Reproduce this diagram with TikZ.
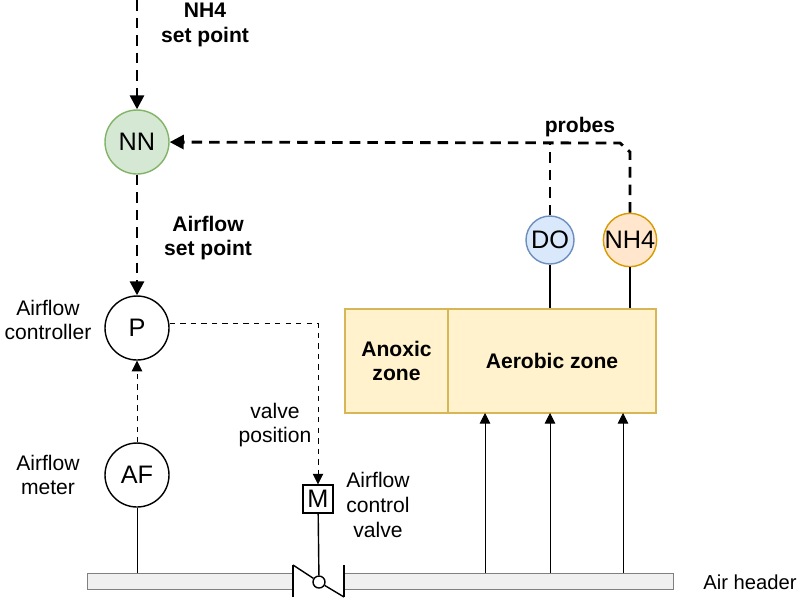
\documentclass[tikz,border=0pt]{standalone}
\usepackage{fontspec}
\setmainfont{Liberation Sans}
\usetikzlibrary{arrows.meta}
\definecolor{gfill}{HTML}{D5E8D4}\definecolor{gline}{HTML}{82B366}
\definecolor{bfill}{HTML}{DAE8FC}\definecolor{bline}{HTML}{6C8EBF}
\definecolor{ofill}{HTML}{FFE6CC}\definecolor{oline}{HTML}{D79B00}
\definecolor{yfill}{HTML}{FFF2CC}\definecolor{yline}{HTML}{D6B656}
\begin{document}
\begin{tikzpicture}[x=0.02cm,y=-0.02cm,
 circ/.style={circle,draw,thick,minimum size=1.28cm,inner sep=0pt,font=\Large},
 probe/.style={circle,draw,thick,minimum size=0.96cm,inner sep=0pt,font=\Large},
 zone/.style={draw=yline,fill=yfill,thick,font=\large\bfseries,align=center,inner sep=0pt},
 lbl/.style={align=center,font=\large},
 blbl/.style={align=center,font=\large\bfseries},
 big/.style={dashed,line width=1.6pt,dash pattern=on 6pt off 4pt,-{Triangle[length=8pt,width=8pt]}},
 small/.style={dashed,thin,-{Triangle[length=6pt,width=6pt]}},
 up/.style={thin,-{Triangle[length=6pt,width=6pt]}}]
\useasboundingbox (0,0) rectangle (800,600);
% pipe
\draw[gray,fill=gray!12] (87,573) rectangle (293,589);
\draw[gray,fill=gray!12] (344,573) rectangle (673,589);
\node[anchor=west,font=\fontsize{11.5}{14}\selectfont,inner sep=0pt] (air) at (703,582) {Air header};
% nodes
\node[circ,fill=gfill,draw=gline] (NN) at (137,142) {NN};
\node[circ] (P) at (137,328) {P};
\node[circ] (AF) at (137,475) {AF};
\node[draw,thick,minimum width=0.6cm,minimum height=0.56cm,inner sep=0pt,font=\Large] (M) at (318,499) {M};
\coordinate (top) at (137,0);
\draw[big] (top) -- (NN);
\node[blbl] (l1) at (205,25) {NH4\\set point};
\draw[big] (NN) -- (P);
\node[blbl] (l2) at (208,238) {Airflow\\set point};
\node[lbl] (l3) at (48,320) {Airflow\\controller};
\node[lbl] (l4) at (48,475) {Airflow\\meter};
\draw[small] (AF) -- (P);
\coordinate (afb) at (137,573);
\draw[thin] (AF) -- (afb);
\coordinate (pc) at (318,323);
\draw[small] (P.east |- pc) -- (pc) -- (M);
\node[lbl] (l5) at (275,425) {valve\\position};
\node[lbl] (l6) at (378,505) {Airflow\\control\\valve};
% valve
\node[circle,draw,thick,fill=white,minimum size=0.24cm,inner sep=0pt] (vc) at (319,582) {};
\draw[thick] (293,565) -- (293,597);
\draw[thick] (344,565) -- (344,597);
\draw[thick] (293,565) -- (vc) -- (344,597);
\draw[thick] (M) -- (vc);
% zones
\node[zone,minimum width=2.06cm,minimum height=2.08cm] (anox) at (396.5,361) {Anoxic\\zone};
\node[zone,minimum width=4.16cm,minimum height=2.08cm] (aer) at (552,361) {Aerobic zone};
\foreach \x in {485,550,623}{\coordinate (b\x) at (\x,573);\coordinate (t\x) at (\x,413);\draw[up] (b\x) -- (t\x);}
\node[probe,fill=bfill,draw=bline] (DO) at (550,240) {DO};
\node[probe,fill=ofill,draw=oline] (NH) at (630,240) {NH4};
\draw[line width=1.6pt] (DO) -- (DO |- aer.north);
\draw[line width=1.6pt] (NH) -- (NH |- aer.north);
\coordinate (c1) at (550,143);
\coordinate (c2) at (620,143);
\coordinate (c3) at (630,152);
\draw[big,-] (DO) -- (c1);
\draw[big] (NH) -- (c3) -- (c2) -- (NN);
\node[blbl] (pr) at (580,127) {probes};
\end{tikzpicture}
\end{document}
